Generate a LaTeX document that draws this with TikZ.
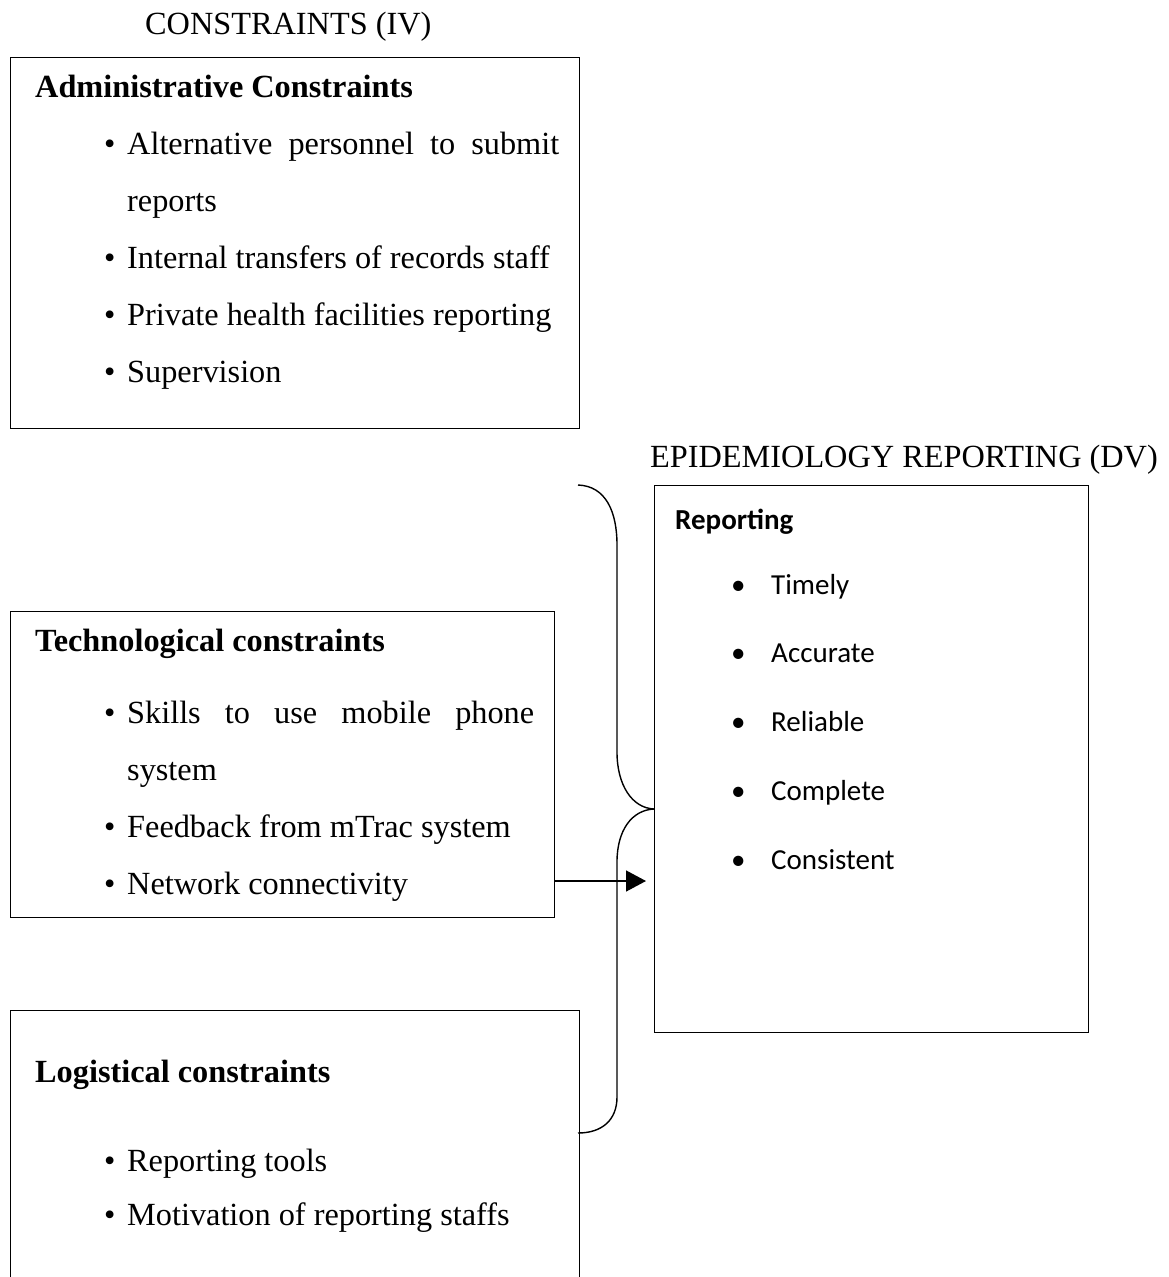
\documentclass[tikz,border=0pt]{standalone}
\usepackage{fontspec}
\setmainfont{Liberation Serif}
\newfontfamily\calfont{Carlito}
\usetikzlibrary{arrows.meta}
\tikzset{
  box/.style={draw, line width=1.4pt, anchor=north west, inner sep=0pt},
  txt/.style={anchor=base west, inner sep=0pt, font=\fontsize{32.3}{34}\selectfont},
  htxt/.style={anchor=base west, inner sep=0pt, font=\bfseries\fontsize{32.3}{34}\selectfont},
  rtxt/.style={anchor=base west, inner sep=0pt, font=\calfont\fontsize{29}{31}\selectfont},
  conn/.style={line width=1.4pt},
}
\begin{document}
\begin{tikzpicture}[x=1pt,y=-1pt]
\useasboundingbox (0,0) rectangle (1169,1277);
\clip (0,0) rectangle (1169,1277);
% titles
\node[txt] (t1) at (145,34) {CONSTRAINTS (IV)};
\node[txt] (t2) at (650,467) {EPIDEMIOLOGY REPORTING (DV)};
% boxes
\node[box, minimum width=569pt, minimum height=371pt] (admin) at (10,57) {};
\node[box, minimum width=544pt, minimum height=306pt] (tech) at (10,611) {};
\node[box, minimum width=569pt, minimum height=300pt] (logi) at (10,1010) {};
\node[box, minimum width=434pt, minimum height=547pt] (rep) at (654,485) {};
% admin text
\node[htxt] (ah) at (35,97) {Administrative Constraints};
\node[txt] (ab1) at (104,154) {\textbullet};
\node[txt] (a1) at (127,154) {\makebox[432pt][s]{Alternative personnel to submit}};
\node[txt] (a1b) at (127,211) {reports};
\node[txt] (ab2) at (104,268) {\textbullet};
\node[txt] (a2) at (127,268) {Internal transfers of records staff};
\node[txt] (ab3) at (104,325) {\textbullet};
\node[txt] (a3) at (127,325) {Private health facilities reporting};
\node[txt] (ab4) at (104,382) {\textbullet};
\node[txt] (a4) at (127,382) {Supervision};
% tech text
\node[htxt] (th) at (35,651) {Technological constraints};
\node[txt] (tb1) at (104,723) {\textbullet};
\node[txt] (tt1) at (127,723) {\makebox[407pt][s]{Skills to use mobile phone}};
\node[txt] (tt1b) at (127,780) {system};
\node[txt] (tb2) at (104,837) {\textbullet};
\node[txt] (tt2) at (127,837) {Feedback from mTrac system};
\node[txt] (tb3) at (104,894) {\textbullet};
\node[txt] (tt3) at (127,894) {Network connectivity};
% logistic text
\node[htxt] (lh) at (35,1082) {Logistical constraints};
\node[txt] (lb1) at (104,1171) {\textbullet};
\node[txt] (l1) at (127,1171) {Reporting tools};
\node[txt] (lb2) at (104,1225) {\textbullet};
\node[txt] (l2) at (127,1225) {Motivation of reporting staffs};
% reporting text
\node[rtxt, font=\calfont\bfseries\fontsize{29}{31}\selectfont] (rh) at (675,529) {Reporting};
\node[rtxt] (rb1) at (731,594) {\textbullet};
\node[rtxt] (r1) at (771,594) {Timely};
\node[rtxt] (rb2) at (731,662) {\textbullet};
\node[rtxt] (r2) at (771,662) {Accurate};
\node[rtxt] (rb3) at (731,731) {\textbullet};
\node[rtxt] (r3) at (771,731) {Reliable};
\node[rtxt] (rb4) at (731,800) {\textbullet};
\node[rtxt] (r4) at (771,800) {Complete};
\node[rtxt] (rb5) at (731,869) {\textbullet};
\node[rtxt] (r5) at (771,869) {Consistent};
% brace
\coordinate (btop) at (578,485);
\coordinate (bmid) at (rep.west |- 0,809);
\coordinate (bbot) at (578,1133);
\draw[conn] (btop) .. controls (606,486) and (617,512) .. (617,545) -- (617,752)
  .. controls (617,785) and (632,808) .. (bmid);
\draw[conn] (bmid) .. controls (632,810) and (617,830) .. (617,862) -- (617,1097)
  .. controls (617,1120) and (602,1133) .. (bbot);
% arrow
\coordinate (aend) at (646,881);
\draw[conn, -{Triangle[length=20pt,width=21pt]}] (tech.east |- aend) -- (aend);
\end{tikzpicture}
\end{document}
